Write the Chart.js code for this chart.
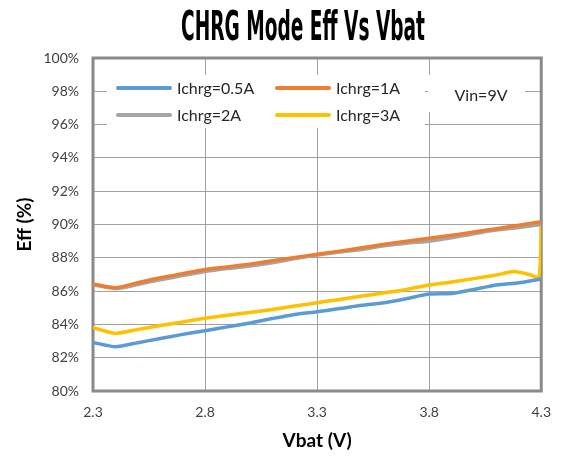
<!DOCTYPE html>
<html>
<head>
<meta charset="utf-8">
<script src="https://cdn.jsdelivr.net/npm/chart.js@4.4.0/dist/chart.umd.min.js"></script>
<style>
  html, body { margin: 0; padding: 0; background: #fff; }
</style>
</head>
<body>
<canvas id="myChart" width="564" height="456"></canvas>
<script>
const chartTitle = 'CHRG Mode Eff Vs Vbat';
const noteText = 'Vin=9V';
const seriesLabels = ['Ichrg=0.5A', 'Ichrg=1A', 'Ichrg=2A', 'Ichrg=3A'];
const seriesColors = ['#5B9BD5', '#ED7D31', '#A5A5A5', '#FFC000'];

// Vbat (V) sample points
const vbat = [2.3, 2.4, 2.5, 2.6, 2.7, 2.8, 2.9, 3.0, 3.1, 3.2, 3.3, 3.4, 3.5, 3.6, 3.7, 3.8, 3.9, 4.0, 4.1, 4.2, 4.3];
const eff05 = [82.92, 82.66, 82.9, 83.15, 83.4, 83.62, 83.85, 84.08, 84.35, 84.6, 84.76, 84.95, 85.15, 85.3, 85.55, 85.82, 85.85, 86.1, 86.37, 86.5, 86.73];
const eff1 = [86.43, 86.2, 86.5, 86.8, 87.05, 87.3, 87.45, 87.62, 87.82, 88.02, 88.21, 88.4, 88.6, 88.82, 89.0, 89.17, 89.35, 89.55, 89.75, 89.95, 90.17];
const eff2 = [86.38, 86.15, 86.4, 86.68, 86.93, 87.17, 87.35, 87.5, 87.7, 87.95, 88.17, 88.35, 88.5, 88.72, 88.88, 89.0, 89.2, 89.45, 89.67, 89.82, 90.0];
// 3A curve has a few extra points near the end (dip, then jump at 4.3V)
const vbat3 = [2.3, 2.4, 2.5, 2.6, 2.7, 2.8, 2.9, 3.0, 3.1, 3.2, 3.3, 3.4, 3.5, 3.6, 3.7, 3.8, 3.9, 4.0, 4.1, 4.18, 4.25, 4.29, 4.3];
const eff3 = [83.8, 83.46, 83.7, 83.93, 84.15, 84.37, 84.55, 84.72, 84.9, 85.1, 85.3, 85.5, 85.7, 85.9, 86.1, 86.37, 86.55, 86.75, 86.97, 87.17, 86.98, 86.83, 89.8];

const xTicks = [2.3, 2.8, 3.3, 3.8, 4.3];
const yTicks = [80, 82, 84, 86, 88, 90, 92, 94, 96, 98, 100];

const toPoints = (xs, ys) => xs.map((x, i) => ({ x: x, y: ys[i] }));

const FONT = 'Lato, "Open Sans", sans-serif';

const decor = {
  id: 'decor',
  beforeDatasetsDraw(chart) {
    const { ctx, chartArea: a } = chart;
    ctx.save();
    ctx.strokeStyle = '#8a8a8a';
    ctx.lineWidth = 3;
    ctx.strokeRect(a.left, a.top, a.right - a.left, a.bottom - a.top);
    ctx.restore();
  },
  afterDatasetsDraw(chart) {
    const ctx = chart.ctx;
    const ds = chart.data.datasets;
    ctx.save();
    // legend box
    ctx.fillStyle = '#fff';
    ctx.fillRect(107, 75, 318, 53);
    ctx.fillRect(428, 75, 97, 37);
    const cols = [118, 277];
    const rows = [88, 115];
    ctx.font = '16px ' + FONT;
    ctx.textBaseline = 'middle';
    ctx.textAlign = 'left';
    ds.forEach((d, i) => {
      const x = cols[i % 2], y = rows[Math.floor(i / 2)];
      ctx.strokeStyle = d.borderColor;
      ctx.lineWidth = 4;
      ctx.lineCap = 'round';
      ctx.beginPath();
      ctx.moveTo(x, y);
      ctx.lineTo(x + 52, y);
      ctx.stroke();
      ctx.fillStyle = '#262626';
      ctx.fillText(d.label, x + 59, y + 1);
    });
    ctx.textAlign = 'center';
    ctx.fillText(noteText, 481, 96);
    ctx.restore();
  },
  afterDraw(chart) {
    const ctx = chart.ctx;
    ctx.save();
    ctx.font = 'bold 40px "Liberation Sans Narrow", "DejaVu Sans Condensed", sans-serif';
    const w = ctx.measureText(chartTitle).width;
    const target = 244;
    ctx.translate(303, 40);
    ctx.scale(target / w, 1);
    ctx.textAlign = 'center';
    ctx.textBaseline = 'alphabetic';
    ctx.fillStyle = '#000';
    ctx.fillText(chartTitle, 0, 0);
    ctx.restore();
  }
};

const ctx = document.getElementById('myChart').getContext('2d');
new Chart(ctx, {
  type: 'line',
  data: {
    datasets: [
      { label: seriesLabels[0], data: toPoints(vbat, eff05), borderColor: seriesColors[0] },
      { label: seriesLabels[1], data: toPoints(vbat, eff1), borderColor: seriesColors[1] },
      { label: seriesLabels[2], data: toPoints(vbat, eff2), borderColor: seriesColors[2] },
      { label: seriesLabels[3], data: toPoints(vbat3, eff3), borderColor: seriesColors[3] }
    ]
  },
  options: {
    responsive: false,
    animation: false,
    elements: {
      point: { radius: 0 },
      line: { borderWidth: 3.5, tension: 0.2, fill: false, borderCapStyle: 'round', borderJoinStyle: 'round' }
    },
    layout: { padding: { top: 58, right: 14, left: 0, bottom: 0 } },
    plugins: {
      legend: { display: false },
      title: { display: false },
      tooltip: { enabled: false }
    },
    scales: {
      x: {
        type: 'linear',
        min: 2.3,
        max: 4.3,
        afterBuildTicks: s => { s.ticks = xTicks.map(v => ({ value: v })); },
        afterFit: s => { s.height = 65; },
        grid: { color: '#a0a0a0', lineWidth: 1, drawTicks: false },
        border: { display: false },
        ticks: { padding: 13, color: '#404040', font: { family: FONT, size: 14 }, callback: v => v.toFixed(1) },
        title: { display: true, text: 'Vbat (V)', color: '#000', font: { family: FONT, size: 19, weight: 'bold' }, padding: { top: 0, bottom: 4 } }
      },
      y: {
        min: 80,
        max: 100,
        afterBuildTicks: s => { s.ticks = yTicks.map(v => ({ value: v })); },
        afterFit: s => { s.width = 93; },
        grid: { color: '#a0a0a0', lineWidth: 1, drawTicks: false },
        border: { display: false },
        ticks: { padding: 14, color: '#404040', font: { family: FONT, size: 14 }, callback: v => v + '%' },
        title: { display: true, text: 'Eff (%)', color: '#000', font: { family: FONT, size: 19, weight: 'bold' }, padding: { top: 13, bottom: 0 } }
      }
    }
  },
  plugins: [decor]
});
</script>
</body>
</html>
